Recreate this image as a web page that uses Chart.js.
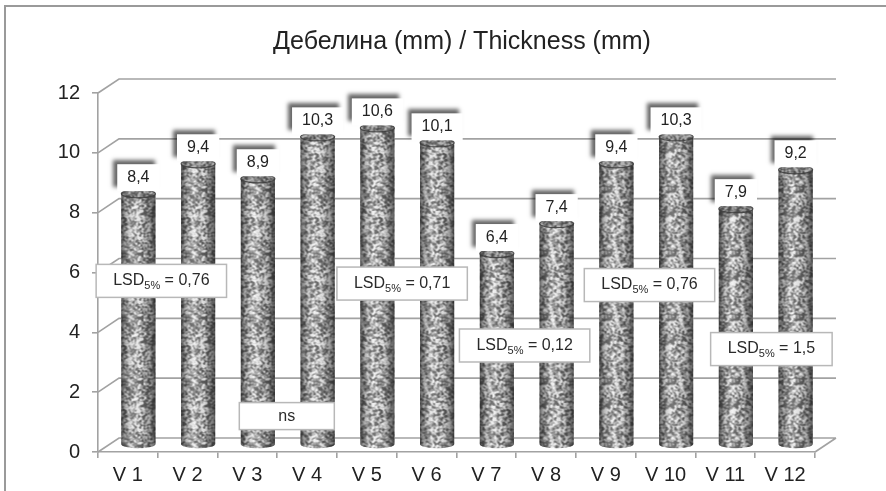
<!DOCTYPE html>
<html>
<head>
<meta charset="utf-8">
<script src="https://cdn.jsdelivr.net/npm/chart.js@4/dist/chart.umd.min.js"></script>
<style>
  html, body { margin: 0; padding: 0; background: #fff; }
  #wrap { width: 886px; height: 491px; position: relative; }
</style>
</head>
<body>
<div id="wrap"><canvas id="c" width="886" height="491"></canvas></div>
<script>
// ---- chart data ----
const categories = ['V 1', 'V 2', 'V 3', 'V 4', 'V 5', 'V 6', 'V 7', 'V 8', 'V 9', 'V 10', 'V 11', 'V 12'];
const thickness = [8.4, 9.4, 8.9, 10.3, 10.6, 10.1, 6.4, 7.4, 9.4, 10.3, 7.9, 9.2];
const valueTicks = [0, 2, 4, 6, 8, 10, 12];
const lsdValues = ['0,76', '0,71', '0,12', '0,76', '1,5'];
const nsText = 'ns';
const titleText = 'Дебелина (mm) / Thickness (mm)';

// ---- look & layout ----
const FONT = "'Liberation Sans', Arial, sans-serif";
const DEPTH = { dx: 21, dy: -14 };          // offset of the back wall
const BAR_SHIFT = { dx: 10.5, dy: -7 };     // bars stand mid-depth
const LINE = '#a2a2a2';
// note boxes: centre in (category index, axis value) units on the front plane
const lsdBoxes = [
  { c: 0.56, v: 5.72 },
  { c: 4.59, v: 5.63 },
  { c: 6.64, v: 3.56 },
  { c: 8.73, v: 5.58 },
  { c: 10.77, v: 3.44 }
];
const nsBox = { c: 2.66, v: 1.2, w: 95, h: 27 };

Chart.defaults.font.family = FONT;

// fine stippled texture for the cylinders (hashed noise, lightly smoothed)
function hash(i, j) {
  let h = (Math.imul(i, 374761393) + Math.imul(j, 668265263)) | 0;
  h = Math.imul(h ^ (h >>> 13), 1274126177);
  h = h ^ (h >>> 16);
  return (h >>> 0) / 4294967295;
}
function makeSpeckle() {
  const n = 64;
  const raw = new Float32Array(n * n);
  for (let y = 0; y < n; y++) for (let x = 0; x < n; x++) raw[y * n + x] = hash(x, y);
  const cv = document.createElement('canvas');
  cv.width = n; cv.height = n;
  const g = cv.getContext('2d');
  const img = g.createImageData(n, n);
  for (let y = 0; y < n; y++) {
    for (let x = 0; x < n; x++) {
      let s = 0, w = 0;
      for (let dy = -1; dy <= 1; dy++) {
        for (let dx = -1; dx <= 1; dx++) {
          const wt = (dx === 0 && dy === 0) ? 2 : (dx === 0 || dy === 0 ? 1 : 0.5);
          s += raw[((y + dy + n) % n) * n + ((x + dx + n) % n)] * wt;
          w += wt;
        }
      }
      const v = s / w;
      const t = Math.max(0, Math.min(1, (v - 0.5) * 3.2 + 0.5));
      const val = 95 + 145 * t;
      const k = (y * n + x) * 4;
      img.data[k] = img.data[k + 1] = img.data[k + 2] = val;
      img.data[k + 3] = 255;
    }
  }
  g.putImageData(img, 0, 0);
  return cv;
}
const speckleCanvas = makeSpeckle();

const fmt = v => v.toFixed(1).replace('.', ',');

function frontPoint(chart, c, v) {
  const xs = chart.scales.x, ys = chart.scales.y;
  const p0 = xs.getPixelForValue(0), p1 = xs.getPixelForValue(1);
  return { x: p0 + (p1 - p0) * c, y: ys.getPixelForValue(v) };
}

function drawLsd(ctx, cx, cy, value) {
  const big = '16px ' + FONT, small = '11px ' + FONT;
  ctx.font = big;
  const w1 = ctx.measureText('LSD').width;
  const w3 = ctx.measureText(' = ' + value).width;
  ctx.font = small;
  const w2 = ctx.measureText('5%').width;
  const tw = w1 + w2 + w3;
  const bw = tw + 34, bh = 33;
  ctx.fillStyle = '#fff';
  ctx.fillRect(cx - bw / 2, cy - bh / 2, bw, bh);
  ctx.strokeStyle = '#b8b8b8';
  ctx.lineWidth = 1.5;
  ctx.strokeRect(cx - bw / 2, cy - bh / 2, bw, bh);
  ctx.fillStyle = '#2a2a2a';
  ctx.textBaseline = 'middle';
  ctx.textAlign = 'left';
  let x = cx - tw / 2;
  ctx.font = big;
  ctx.fillText('LSD', x, cy);
  x += w1;
  ctx.font = small;
  ctx.fillText('5%', x, cy + 5);
  x += w2;
  ctx.font = big;
  ctx.fillText(' = ' + value, x, cy);
}

const scenePlugin = {
  id: 'scene',
  beforeDraw(chart) {
    const ctx = chart.ctx;
    ctx.save();
    ctx.fillStyle = '#fff';
    ctx.fillRect(0, 0, chart.width, chart.height);
    // outer frame
    ctx.strokeStyle = '#9a9a9a';
    ctx.lineWidth = 2;
    ctx.beginPath();
    ctx.moveTo(5, chart.height);
    ctx.lineTo(5, 6);
    ctx.lineTo(chart.width, 6);
    ctx.stroke();
    // title
    ctx.fillStyle = '#222';
    ctx.font = '25px ' + FONT;
    ctx.textAlign = 'center';
    ctx.textBaseline = 'middle';
    ctx.fillText(titleText, 462, 42);
    ctx.restore();
  },
  beforeDatasetsDraw(chart) {
    const ctx = chart.ctx;
    const { left, right, bottom } = chart.chartArea;
    const ys = chart.scales.y;
    ctx.save();
    ctx.strokeStyle = LINE;
    ctx.lineWidth = 1.6;
    ctx.beginPath();
    valueTicks.forEach(v => {
      const y = ys.getPixelForValue(v);
      ctx.moveTo(left, y);
      ctx.lineTo(left + DEPTH.dx, y + DEPTH.dy);
      ctx.lineTo(right + DEPTH.dx, y + DEPTH.dy);
    });
    ctx.moveTo(right, bottom);
    ctx.lineTo(right + DEPTH.dx, bottom + DEPTH.dy);
    ctx.stroke();
    ctx.restore();
    // bars are drawn on the middle depth plane
    ctx.save();
    ctx.translate(BAR_SHIFT.dx, BAR_SHIFT.dy);
  },
  afterDatasetsDraw(chart) {
    const ctx = chart.ctx;
    const pattern = ctx.createPattern(speckleCanvas, 'repeat');
    const meta = chart.getDatasetMeta(0);
    meta.data.forEach(el => {
      const { x, y, base, width } = el.getProps(['x', 'y', 'base', 'width'], true);
      const l = x - width / 2, r = x + width / 2, rx = width / 2, ry = width * 0.12;
      // body with rounded foot
      ctx.beginPath();
      ctx.moveTo(l, y);
      ctx.lineTo(l, base);
      ctx.ellipse(x, base, rx, ry, 0, Math.PI, 0, true);
      ctx.lineTo(r, y);
      ctx.closePath();
      ctx.fillStyle = pattern;
      ctx.fill();
      const grd = ctx.createLinearGradient(l, 0, r, 0);
      grd.addColorStop(0, 'rgba(25,25,25,0.65)');
      grd.addColorStop(0.14, 'rgba(25,25,25,0.28)');
      grd.addColorStop(0.4, 'rgba(255,255,255,0.15)');
      grd.addColorStop(0.68, 'rgba(25,25,25,0.1)');
      grd.addColorStop(0.88, 'rgba(25,25,25,0.42)');
      grd.addColorStop(1, 'rgba(25,25,25,0.7)');
      ctx.fillStyle = grd;
      ctx.fill();
      // top cap
      ctx.beginPath();
      ctx.ellipse(x, y, rx, ry, 0, 0, Math.PI * 2);
      ctx.fillStyle = pattern;
      ctx.fill();
      ctx.fillStyle = 'rgba(40,40,40,0.3)';
      ctx.fill();
      ctx.strokeStyle = 'rgba(60,60,60,0.85)';
      ctx.lineWidth = 1.2;
      ctx.stroke();
    });
    // value labels above each cylinder
    meta.data.forEach((el, i) => {
      const { x, y } = el.getProps(['x', 'y'], true);
      const txt = fmt(thickness[i]);
      ctx.font = '16px ' + FONT;
      const tw = ctx.measureText(txt).width;
      const bw = tw + 20, bh = 27;
      const cy = y - 16;
      ctx.save();
      ctx.shadowColor = 'rgba(0,0,0,0.6)';
      ctx.shadowBlur = 4;
      ctx.shadowOffsetX = -4;
      ctx.shadowOffsetY = -4;
      ctx.fillStyle = '#fff';
      ctx.fillRect(x - bw / 2, cy - bh / 2, bw, bh);
      ctx.restore();
      ctx.fillStyle = '#222';
      ctx.textAlign = 'center';
      ctx.textBaseline = 'middle';
      ctx.fillText(txt, x, cy);
    });
    ctx.restore();
  },
  afterDraw(chart) {
    const ctx = chart.ctx;
    ctx.save();
    lsdBoxes.forEach((b, i) => {
      const p = frontPoint(chart, b.c, b.v);
      drawLsd(ctx, p.x, p.y, lsdValues[i]);
    });
    const p = frontPoint(chart, nsBox.c, nsBox.v);
    ctx.fillStyle = '#fff';
    ctx.fillRect(p.x - nsBox.w / 2, p.y - nsBox.h / 2, nsBox.w, nsBox.h);
    ctx.strokeStyle = '#b8b8b8';
    ctx.lineWidth = 1.5;
    ctx.strokeRect(p.x - nsBox.w / 2, p.y - nsBox.h / 2, nsBox.w, nsBox.h);
    ctx.fillStyle = '#2a2a2a';
    ctx.font = '16px ' + FONT;
    ctx.textAlign = 'center';
    ctx.textBaseline = 'middle';
    ctx.fillText(nsText, p.x, p.y);
    ctx.restore();
  }
};

new Chart(document.getElementById('c'), {
  type: 'bar',
  data: {
    labels: categories,
    datasets: [{
      data: thickness,
      backgroundColor: '#9a9a9a',
      borderWidth: 0,
      barPercentage: 0.57,
      categoryPercentage: 1.0
    }]
  },
  options: {
    responsive: false,
    animation: false,
    devicePixelRatio: 1,
    layout: { padding: { top: 93, right: 71, left: 0, bottom: 0 } },
    plugins: {
      legend: { display: false },
      tooltip: { enabled: false },
      title: { display: false }
    },
    scales: {
      x: {
        grid: { drawOnChartArea: false, drawTicks: true, tickLength: 6, color: LINE, lineWidth: 1.6, offset: true },
        border: { color: LINE, width: 1.6 },
        ticks: { color: '#222', font: { size: 20 }, padding: 5, maxRotation: 0, autoSkip: false },
        afterFit(s) { s.height = 39; }
      },
      y: {
        min: 0,
        max: 12,
        afterBuildTicks(s) { s.ticks = valueTicks.map(v => ({ value: v })); },
        grid: { drawOnChartArea: false, drawTicks: true, tickLength: 6, color: LINE, lineWidth: 1.6 },
        border: { color: LINE, width: 1.6 },
        ticks: { color: '#222', font: { size: 20 }, padding: 12 },
        afterFit(s) { s.width = 98; }
      }
    }
  },
  plugins: [scenePlugin]
});
</script>
</body>
</html>
